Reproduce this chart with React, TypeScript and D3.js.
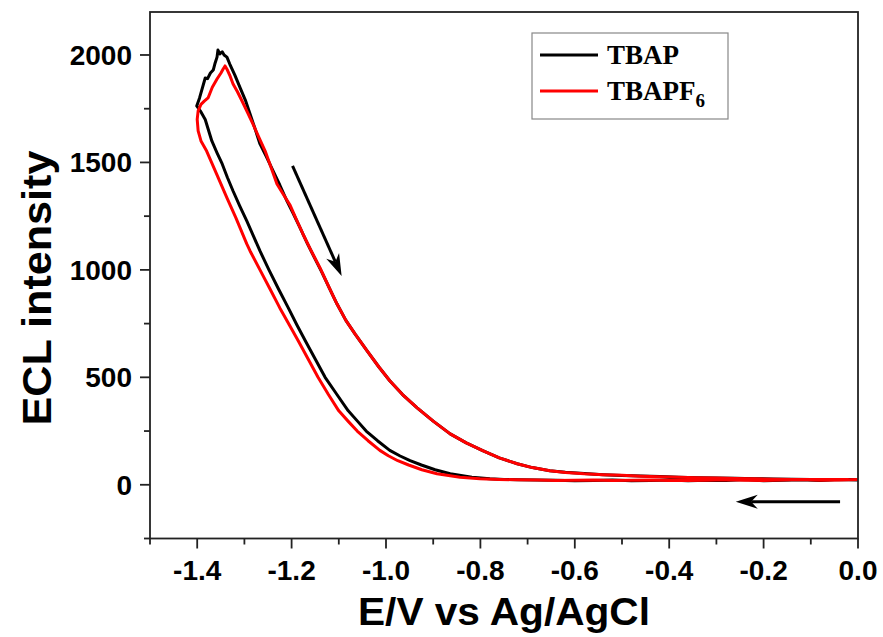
import React from "react";
import * as d3 from "d3";

// ---- data ----
const seriesNames = ["TBAP", "TBAPF6"];
const seriesColors = ["#000000", "#ff0000"];

// TBAP: forward scan 0 -> -1.4 V (lower branch), then back -1.4 -> 0 V (upper branch)
const tbapE = [
  0, -0.04, -0.08, -0.12, -0.16, -0.2, -0.24, -0.28, -0.32, -0.36, -0.4, -0.44, -0.48, -0.52, -0.56, -0.6, -0.64, -0.68, -0.72, -0.75, -0.78, -0.818, -0.864, -0.896, -0.925, -0.949, -0.97, -0.992, -1.018, -1.042, -1.06, -1.08, -1.104, -1.129, -1.15, -1.171, -1.189, -1.207, -1.228, -1.248, -1.267, -1.281, -1.295, -1.31, -1.324, -1.336, -1.347, -1.358, -1.369, -1.383, -1.392, -1.401,
  -1.395, -1.383, -1.378, -1.372, -1.366, -1.362, -1.358, -1.356, -1.352, -1.347, -1.343, -1.337, -1.331, -1.32, -1.309, -1.298, -1.288, -1.278, -1.267, -1.253, -1.239, -1.225, -1.21, -1.196, -1.182, -1.167, -1.15, -1.135, -1.12, -1.104, -1.085, -1.065, -1.04, -1.015, -0.992, -0.965, -0.934, -0.9, -0.864, -0.83, -0.794, -0.76, -0.722, -0.69, -0.653, -0.62, -0.58, -0.54, -0.5, -0.46, -0.42, -0.38, -0.34, -0.3, -0.26, -0.22, -0.18, -0.14, -0.1, -0.06, -0.02, 0,
];
const tbapI = [
  22, 25, 20, 23, 21, 19, 24, 20, 21, 19, 22, 20, 19, 22, 20, 19, 21, 22, 23, 25, 28, 35, 51, 70, 92, 112, 134, 160, 205, 250, 295, 344, 420, 500, 585, 670, 745, 823, 912, 1000, 1088, 1158, 1228, 1298, 1367, 1430, 1493, 1545, 1600, 1700, 1735, 1763,
  1800, 1893, 1890, 1916, 1930, 1963, 1990, 2023, 2005, 2015, 2000, 1990, 1958, 1905, 1847, 1790, 1726, 1660, 1586, 1525, 1460, 1395, 1321, 1260, 1195, 1125, 1050, 985, 915, 842, 765, 700, 623, 548, 484, 420, 358, 296, 237, 195, 158, 125, 98, 80, 65, 58, 52, 47, 43, 41, 38, 35, 33, 31, 30, 28, 27, 26, 25, 24, 24, 23,
];

// TBAPF6
const tbapf6E = [
  0, -0.04, -0.08, -0.12, -0.16, -0.2, -0.24, -0.28, -0.32, -0.36, -0.4, -0.44, -0.48, -0.52, -0.56, -0.6, -0.64, -0.68, -0.722, -0.76, -0.801, -0.843, -0.892, -0.924, -0.952, -0.975, -0.995, -1.013, -1.038, -1.061, -1.08, -1.1, -1.122, -1.144, -1.165, -1.186, -1.205, -1.225, -1.246, -1.267, -1.288, -1.295, -1.318, -1.337, -1.359, -1.38, -1.392, -1.398, -1.4, -1.398,
  -1.392, -1.385, -1.377, -1.368, -1.358, -1.35, -1.345, -1.341, -1.336, -1.33, -1.324, -1.315, -1.305, -1.294, -1.282, -1.27, -1.256, -1.244, -1.231, -1.217, -1.203, -1.19, -1.176, -1.16, -1.14, -1.122, -1.104, -1.085, -1.065, -1.04, -1.015, -0.992, -0.965, -0.934, -0.9, -0.864, -0.83, -0.794, -0.76, -0.722, -0.69, -0.653, -0.62, -0.58, -0.54, -0.5, -0.46, -0.42, -0.38, -0.34, -0.3, -0.26, -0.22, -0.18, -0.14, -0.1, -0.06, -0.02, 0,
];
const tbapf6I = [
  24, 22, 21, 24, 22, 20, 21, 23, 21, 20, 20, 22, 21, 20, 22, 21, 20, 22, 23, 25, 28, 35, 51, 70, 92, 112, 135, 160, 205, 250, 295, 344, 420, 500, 585, 670, 745, 823, 912, 1000, 1088, 1121, 1242, 1335, 1447, 1553, 1600, 1647, 1700, 1740,
  1770, 1785, 1800, 1850, 1888, 1915, 1935, 1949, 1930, 1900, 1865, 1830, 1786, 1735, 1679, 1620, 1553, 1480, 1400, 1350, 1300, 1235, 1167, 1095, 1010, 925, 842, 765, 700, 623, 548, 484, 420, 358, 296, 237, 195, 158, 125, 98, 80, 65, 57, 51, 47, 44, 40, 37, 35, 33, 31, 29, 28, 26, 25, 25, 24, 24,
];

const xTicks = [-1.4, -1.2, -1.0, -0.8, -0.6, -0.4, -0.2, 0.0];
const xMinor = [-1.5, -1.3, -1.1, -0.9, -0.7, -0.5, -0.3, -0.1];
const yTicks = [0, 500, 1000, 1500, 2000];
const yMinor = [-250, 250, 750, 1250, 1750];

// arrows (data coordinates): [x1, y1, x2(tip), y2(tip)]
const scanArrowDown = [-1.198, 1484, -1.094, 972];
const scanArrowLeft = [-0.038, -79, -0.259, -79];

const W = 883;
const H = 637;
const LEFT = 150;
const RIGHT = 858;
const TOP = 12;
const BOTTOM = 538.5;

export default function App() {
  const x = d3.scaleLinear().domain([-1.5, 0]).range([LEFT, RIGHT]);
  const y = d3.scaleLinear().domain([-250, 2200]).range([BOTTOM, TOP]);

  const line = d3
    .line<[number, number]>()
    .x((d) => x(d[0]))
    .y((d) => y(d[1]));

  const series = [
    { name: seriesNames[0], color: seriesColors[0], pts: tbapE.map((e, i) => [e, tbapI[i]] as [number, number]) },
    { name: seriesNames[1], color: seriesColors[1], pts: tbapf6E.map((e, i) => [e, tbapf6I[i]] as [number, number]) },
  ];

  const fmtX = (v: number) => v.toFixed(1);
  const tickFont = "'Liberation Sans', Arial, sans-serif";

  const arrow = (a: number[], headLen: number, headHalf: number, key: string) => {
    const x1 = x(a[0]), y1 = y(a[1]), x2 = x(a[2]), y2 = y(a[3]);
    const ang = Math.atan2(y2 - y1, x2 - x1);
    const bx = x2 - headLen * Math.cos(ang);
    const by = y2 - headLen * Math.sin(ang);
    const px = -Math.sin(ang) * headHalf;
    const py = Math.cos(ang) * headHalf;
    const notchX = x2 - headLen * 0.7 * Math.cos(ang);
    const notchY = y2 - headLen * 0.7 * Math.sin(ang);
    return (
      <g key={key}>
        <line x1={x1} y1={y1} x2={notchX} y2={notchY} stroke="#000" strokeWidth={3} />
        <path d={`M${x2},${y2} L${bx + px},${by + py} L${notchX},${notchY} L${bx - px},${by - py} Z`} fill="#000" />
      </g>
    );
  };

  return (
    <svg width={W} height={H} style={{ position: "absolute", left: 0, top: 0, background: "#fff" }}>
      <rect x={0} y={0} width={W} height={H} fill="#fff" />
      <defs>
        <clipPath id="plotclip">
          <rect x={LEFT} y={TOP} width={RIGHT - LEFT} height={BOTTOM - TOP} />
        </clipPath>
      </defs>

      {/* curves */}
      <g clipPath="url(#plotclip)">
        {series.map((s) => (
          <path key={s.name} d={line(s.pts) || ""} fill="none" stroke={s.color} strokeWidth={3} strokeLinejoin="round" />
        ))}
      </g>

      {/* frame */}
      <rect x={LEFT} y={TOP} width={RIGHT - LEFT} height={BOTTOM - TOP} fill="none" stroke="#222" strokeWidth={1.8} />

      {/* x ticks */}
      {xTicks.map((t) => (
        <g key={"xt" + t}>
          <line x1={x(t)} x2={x(t)} y1={BOTTOM} y2={BOTTOM + 10} stroke="#222" strokeWidth={1.8} />
          <text x={x(t)} y={580} textAnchor="middle" fontFamily={tickFont} fontWeight="bold" fontSize={28} fill="#000">
            {fmtX(t)}
          </text>
        </g>
      ))}
      {xMinor.map((t) => (
        <line key={"xm" + t} x1={x(t)} x2={x(t)} y1={BOTTOM} y2={BOTTOM + 6} stroke="#222" strokeWidth={1.8} />
      ))}

      {/* y ticks */}
      {yTicks.map((t) => (
        <g key={"yt" + t}>
          <line x1={LEFT - 10} x2={LEFT} y1={y(t)} y2={y(t)} stroke="#222" strokeWidth={1.8} />
          <text x={132} y={y(t) + 10} textAnchor="end" fontFamily={tickFont} fontWeight="bold" fontSize={28} fill="#000">
            {t}
          </text>
        </g>
      ))}
      {yMinor.map((t) => (
        <line key={"ym" + t} x1={LEFT - 6} x2={LEFT} y1={y(t)} y2={y(t)} stroke="#222" strokeWidth={1.8} />
      ))}

      {/* axis titles */}
      <text
        x={(LEFT + RIGHT) / 2}
        y={625}
        textAnchor="middle"
        fontFamily={tickFont}
        fontWeight="bold"
        fontSize={38}
        textLength={292}
        lengthAdjust="spacingAndGlyphs"
        fill="#000"
      >
        E/V vs Ag/AgCl
      </text>
      <text
        transform={`translate(51, ${288}) rotate(-90)`}
        textAnchor="middle"
        fontFamily={tickFont}
        fontWeight="bold"
        fontSize={40}
        textLength={275}
        lengthAdjust="spacingAndGlyphs"
        fill="#000"
      >
        ECL intensity
      </text>

      {/* arrows */}
      {arrow(scanArrowDown, 22, 7, "a1")}
      {arrow(scanArrowLeft, 22, 7, "a2")}

      {/* legend */}
      <rect x={532} y={33} width={196} height={86} fill="#fff" stroke="#888" strokeWidth={1.2} />
      {series.map((s, i) => (
        <g key={"lg" + s.name}>
          <line x1={540} x2={598} y1={55 + i * 36} y2={55 + i * 36} stroke={s.color} strokeWidth={3} />
          <text x={607} y={64 + i * 36} fontFamily="'Liberation Serif', 'Times New Roman', serif" fontWeight="bold" fontSize={27} fill="#000">
            {i === 0 ? "TBAP" : (
              <>
                TBAPF<tspan fontSize={19} dy={7}>6</tspan>
              </>
            )}
          </text>
        </g>
      ))}
    </svg>
  );
}
